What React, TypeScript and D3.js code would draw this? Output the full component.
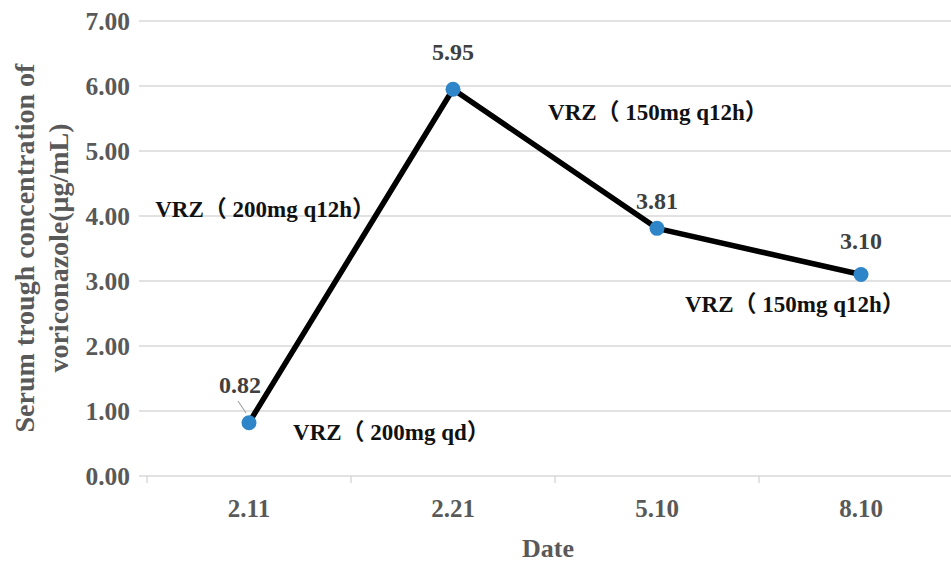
import React from "react";
import * as d3 from "d3";

const dates = ["2.11", "2.21", "5.10", "8.10"];
const values = [0.82, 5.95, 3.81, 3.1];
const yTicks = [0, 1, 2, 3, 4, 5, 6, 7];
const notes = [
  { text: "VRZ（ 200mg q12h）", x: 0.04, y: 3.98 },
  { text: "VRZ（ 150mg q12h）", x: 1.966, y: 5.48 },
  { text: "VRZ（ 150mg q12h）", x: 2.637, y: 2.52 },
  { text: "VRZ（ 200mg qd）", x: 0.716, y: 0.55 },
];
const labelOffsets = [
  { dx: -9, dy: -30 },
  { dx: 0, dy: -29 },
  { dx: 0, dy: -19 },
  { dx: 0, dy: -26 },
];

const W = 951;
const H = 562;
const left = 147;
const right = 963;
const top = 21;
const bottom = 476;
const font = "'Liberation Serif', 'Times New Roman', 'Noto Sans CJK SC', serif";

export default function App() {
  const x = d3.scaleBand<string>().domain(dates).range([left, right]);
  const y = d3.scaleLinear().domain([0, 7]).range([bottom, top]);
  const cx = (d: string) => (x(d) as number) + x.bandwidth() / 2;
  const line = d3
    .line<number>()
    .x((_, i) => cx(dates[i]))
    .y((v) => y(v));
  const xn = d3.scaleLinear().domain([0, 4]).range([left, right]);

  return (
    <svg
      width={W}
      height={H}
      style={{ position: "absolute", left: 0, top: 0, background: "#fff" }}
      fontFamily={font}
      fontWeight="bold"
    >
      {yTicks.map((t) => (
        <g key={t}>
          <line x1={left} x2={W} y1={y(t)} y2={y(t)} stroke="#d9d9d9" strokeWidth={1.5} />
          <line x1={left - 8} x2={left} y1={y(t)} y2={y(t)} stroke="#d9d9d9" strokeWidth={1.5} />
          <text x={130} y={y(t)} dy="0.35em" textAnchor="end" fontSize={25.5} fill="#595959">
            {t.toFixed(2)}
          </text>
        </g>
      ))}
      {dates.map((d, i) => (
        <line key={"s" + i} x1={x(d)} x2={x(d)} y1={bottom} y2={bottom + 7} stroke="#d9d9d9" strokeWidth={1.5} />
      ))}
      {dates.map((d) => (
        <text key={d} x={cx(d)} y={517} textAnchor="middle" fontSize={25} fill="#595959">
          {d}
        </text>
      ))}
      <text x={548} y={557} textAnchor="middle" fontSize={26} fill="#595959">
        Date
      </text>
      <g transform="translate(34,248) rotate(-90)">
        <text x={0} y={0} textAnchor="middle" fontSize={28} fill="#595959">
          Serum trough concentration of
        </text>
        <text x={0} y={34} textAnchor="middle" fontSize={28} fill="#595959">
          voriconazole(μg/mL)
        </text>
      </g>
      <path d={line(values) || ""} fill="none" stroke="#000" strokeWidth={5.5} strokeLinejoin="round" />
      <line x1={238} y1={401} x2={246} y2={413} stroke="#a6a6a6" strokeWidth={1.2} />
      {values.map((v, i) => (
        <circle key={i} cx={cx(dates[i])} cy={y(v)} r={7.5} fill="#2e86c8" />
      ))}
      {values.map((v, i) => (
        <text
          key={"l" + i}
          x={cx(dates[i]) + labelOffsets[i].dx}
          y={y(v) + labelOffsets[i].dy}
          textAnchor="middle"
          fontSize={24}
          fill="#404040"
        >
          {v.toFixed(2)}
        </text>
      ))}
      {notes.map((n, i) => (
        <text key={"n" + i} x={xn(n.x)} y={y(n.y)} fontSize={23} fill="#111">
          {n.text}
        </text>
      ))}
    </svg>
  );
}
